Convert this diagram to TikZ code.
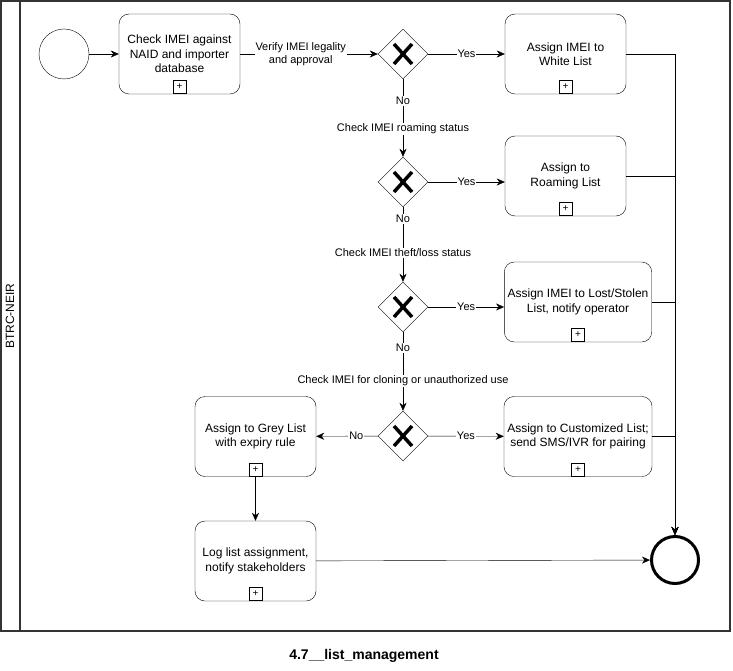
\documentclass[tikz,border=0pt]{standalone}
\usepackage{fontspec}
\setmainfont{Liberation Sans}
\usetikzlibrary{shapes.geometric,arrows.meta}
\begin{document}
\begin{tikzpicture}[x=1pt,y=-1pt,
  task/.style={rectangle,draw,rounded corners=10pt,minimum width=121pt,minimum height=80pt,align=center,font=\fontsize{12}{14.5}\selectfont},
  widetask/.style={task,minimum width=146pt},
  gateway/.style={diamond,draw,minimum width=50pt,minimum height=50pt,inner sep=0pt,
    path picture={\draw[line width=3.5pt] ([shift={(-9pt,-10pt)}]path picture bounding box.center) -- ([shift={(9pt,10pt)}]path picture bounding box.center)
      ([shift={(-9pt,10pt)}]path picture bounding box.center) -- ([shift={(9pt,-10pt)}]path picture bounding box.center);}},
  plusbox/.style={rectangle,draw,minimum size=13pt,inner sep=0pt,fill=white,font=\fontsize{10}{10}\selectfont},
  flow/.style={-{Stealth[length=8pt,width=7pt,inset=2.5pt]}},
  lbl/.style={fill=white,inner sep=1pt,align=center,font=\fontsize{11}{13}\selectfont}]
\useasboundingbox (0,0) rectangle (733,671);
% pool and lane
\draw[line width=1.6pt,black!80] (1,1) rectangle (730,631) (20,1) -- (20,631);
\node [rotate=90,font=\fontsize{12}{14}\selectfont] (lane) at (10,316) {BTRC-NEIR};

\node [circle,draw,minimum size=50pt,inner sep=0pt] (start) at (64,54) {};
\node [task] (check) at (179.5,54) {Check IMEI against\\NAID and importer\\database};
\node [gateway] (g1) at (403,54) {};
\node [task] (white) at (565.5,54) {Assign IMEI to\\White List};
\node [gateway] (g2) at (403,182) {};
\node [task] (roaming) at (565.5,176) {Assign to\\Roaming List};
\node [gateway] (g3) at (403,307) {};
\node [widetask] (lost) at (578,302) {Assign IMEI to Lost/Stolen\\List, notify operator};
\node [gateway] (g4) at (403,436) {};
\node [widetask] (custom) at (578,436.5) {Assign to Customized List;\\send SMS/IVR for pairing};
\node [task] (grey) at (255.5,436.5) {Assign to Grey List\\with expiry rule};
\node [task] (log) at (255.5,561) {Log list assignment,\\notify stakeholders};
\node [circle,draw,line width=3pt,minimum size=47pt,inner sep=0pt] (end) at (675,560) {};

\foreach \t in {check,white,roaming,lost,custom,grey,log}
  \node [plusbox] at ([yshift=7.5pt]\t.south) {+};

\draw [flow] (start) -- (check);
\draw [flow] (check) -- (g1) node [lbl,pos=0.44] {Verify IMEI legality\\and approval};
\draw [flow] (g1) -- (white) node [lbl,midway] {Yes};
\draw [flow] (g1.south) -- (g2.north) node [lbl,pos=0.28] {No} node [lbl,pos=0.64] {Check IMEI roaming status};
\draw [flow] (g2.east) -- (g2.east -| roaming.west) node [lbl,midway] {Yes};
\draw [flow] (g2.south) -- (g3.north) node [lbl,pos=0.16] {No} node [lbl,pos=0.61] {Check IMEI theft/loss status};
\draw [flow] (g3.east) -- (g3.east -| lost.west) node [lbl,midway] {Yes};
\draw [flow] (g3.south) -- (g4.north) node [lbl,pos=0.2] {No} node [lbl,pos=0.62] {Check IMEI for cloning or unauthorized use};
\draw [flow] (g4) -- (custom) node [lbl,midway] {Yes};
\draw [flow] (g4) -- (grey) node [lbl,pos=0.35] {No};
\draw [flow] (grey) -- (log);
\draw [flow] (log) -- (end);
\foreach \t in {white,roaming,lost,custom}
  \draw [flow] (\t.east) -| (end.north);

\node [font=\bfseries\fontsize{14}{16}\selectfont] (title) at (364,656) {4.7\_\_list\_management};
\end{tikzpicture}
\end{document}
